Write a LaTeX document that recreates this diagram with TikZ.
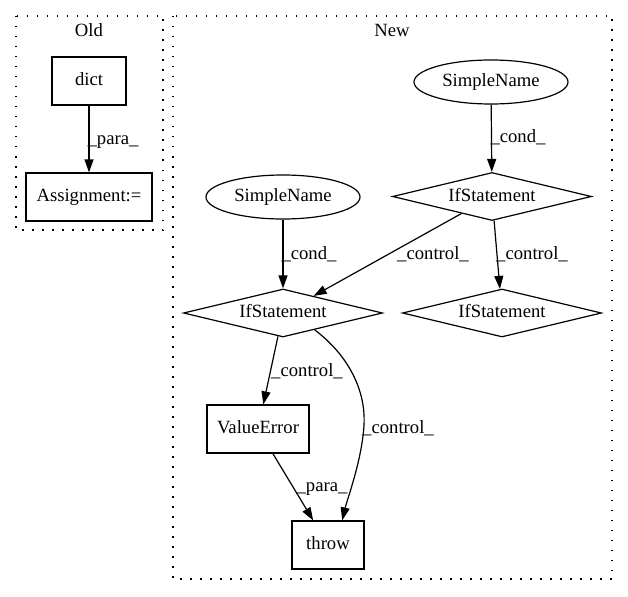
\documentclass[tikz,border=0pt]{standalone}
\usepackage{fontspec}
\setmainfont{Liberation Serif}
\usetikzlibrary{shapes.geometric,arrows.meta}
\begin{document}
\begin{tikzpicture}[x=1pt,y=-1pt,
  font=\fontsize{18.67}{22}\selectfont,
  txt/.style={inner sep=0pt, text height=13pt, text depth=4pt},
  box/.style={txt, draw, line width=1.2pt, minimum width=#1, minimum height=48pt},
  namenode/.style={txt, draw, ellipse, line width=1.2pt, minimum width=154pt, minimum height=44pt},
  ifnode/.style={txt, draw, diamond, aspect=4.15, line width=1.2pt, minimum width=199pt, minimum height=48pt},
  flow/.style={line width=1.2pt, -{Triangle[length=13pt,width=9pt]}},
  cluster/.style={line width=1.3pt, dash pattern=on 1.5pt off 8.5pt}]
\useasboundingbox (0,0) rectangle (628,596);
% clusters
\draw [cluster] (16,16) rectangle (163,230);
\node [txt] (oldtitle) at (89,32) {Old};
\draw [cluster] (173,16) rectangle (612,579);
\node [txt] (newtitle) at (392,32) {New};
% old
\node [box=74pt] (dict) at (89,81) {dict};
\node [box=126pt] (assign) at (89,197) {Assignment:=};
\draw [flow] (dict) -- (assign);
\node [txt] (para1) at (113,140) {\_para\_};
% new
\node [namenode] (name1) at (491,82) {SimpleName};
\node [ifnode] (if1) at (492,196.5) {IfStatement};
\node [namenode] (name2) at (283,197) {SimpleName};
\node [ifnode] (if2) at (283,313) {IfStatement};
\node [ifnode] (if3) at (502,313) {IfStatement};
\node [box=102pt] (valerr) at (258,429) {ValueError};
\node [box=72pt] (throw) at (328,545) {throw};
\draw [flow] (name1) -- (if1);
\node [txt] (cond1) at (518,138) {\_cond\_};
\draw [flow] (name2) -- (if2);
\node [txt] (cond2) at (309,255) {\_cond\_};
\draw [flow] (if1) -- (if2);
\node [txt] (ctrl1) at (433,255) {\_control\_};
\draw [flow] (if1) -- (if3);
\node [txt] (ctrl2) at (532,255) {\_control\_};
\draw [flow] (if2) -- (valerr);
\node [txt] (ctrl3) at (307,372) {\_control\_};
\draw [flow] (if2.-28) .. controls (348,355) and (366,390) .. (364,425)
  .. controls (362,460) and (347,500) .. (throw.60);
\node [txt] (ctrl4) at (398,429) {\_control\_};
\draw [flow] (valerr) -- (throw);
\node [txt] (para2) at (322,487) {\_para\_};
\end{tikzpicture}
\end{document}
